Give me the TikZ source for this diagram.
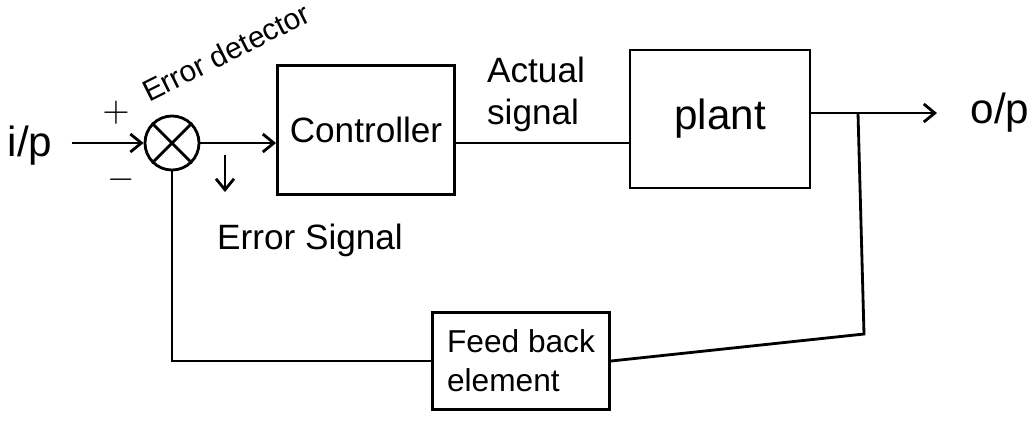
\documentclass[tikz,border=0pt]{standalone}
\usepackage{fontspec}
\setmainfont{Liberation Sans}
\usetikzlibrary{arrows.meta,positioning,calc}

\begin{document}
\begin{tikzpicture}[x=0.01cm, y=-0.01cm,
      blk/.style={draw, thick, rectangle, inner sep=2pt, align=center},
      sumj/.style={draw, thick, circle, minimum size=0.54cm, inner sep=0pt},
      flow/.style={-{Straight Barb[length=1.1mm,width=1.8mm]}, thick},
      wire/.style={thick},
      lbl/.style={align=left, inner sep=1pt}]
    \useasboundingbox (0,0) rectangle (1030,420);
    % ----- input and error detector
    \node[lbl, font=\large] (ip) at (30,146) {i/p};
    \node[sumj] (sum) at (172,143) {};
    \draw[thick] (sum.45) -- (sum.225) (sum.135) -- (sum.315);
    \node[lbl] (plus) at (116,113) {$+$};
    \node[lbl] (minus) at (121,180) {$-$};
    \node[lbl, inner sep=0pt, font=\fontsize{8.5}{10}\selectfont, rotate=26.6]
      (det) at (226,52) {Error detector};
    \draw[flow] ([xshift=0.15cm]sum.west -| ip.east) -- (sum.west);
    % ----- controller and plant
    \node[blk, minimum width=1.77cm, minimum height=1.29cm] (ctrl)
      at (366,130) {Controller};
    \node[blk, minimum width=1.80cm, minimum height=1.38cm, font=\large] (plant)
      at (720,119) {plant};
    \draw[flow] (sum.east) -- (sum.east -| ctrl.west);
    \draw[wire] (ctrl.east |- sum.east) -- (plant.west |- sum.east);
    \node[lbl] (act) at (536,94) {Actual\\signal};
    % ----- error signal mark
    \coordinate (es1) at (225,155);
    \coordinate (es2) at (225,192);
    \draw[flow] (es1) -- (es2);
    \node[lbl] (esig) at (310,240) {Error Signal};
    % ----- output with take-off point
    \coordinate (br) at (858,113);
    \coordinate (out) at (937,113);
    \draw[flow] (plant.east |- br) -- (out);
    \node[lbl, font=\large] (op) at (1000,113) {o/p};
    % ----- feedback path
    \node[blk, minimum width=1.77cm, minimum height=0.97cm, font=\small,
          align=left] (fb) at (521,361) {Feed back\\element};
    \coordinate (fbr) at (864,334);
    \draw[wire] (sum.south) |- (fb.west);
    \draw[wire] (br) -- (fbr) -- (fb.east);
  \end{tikzpicture}
\end{document}
